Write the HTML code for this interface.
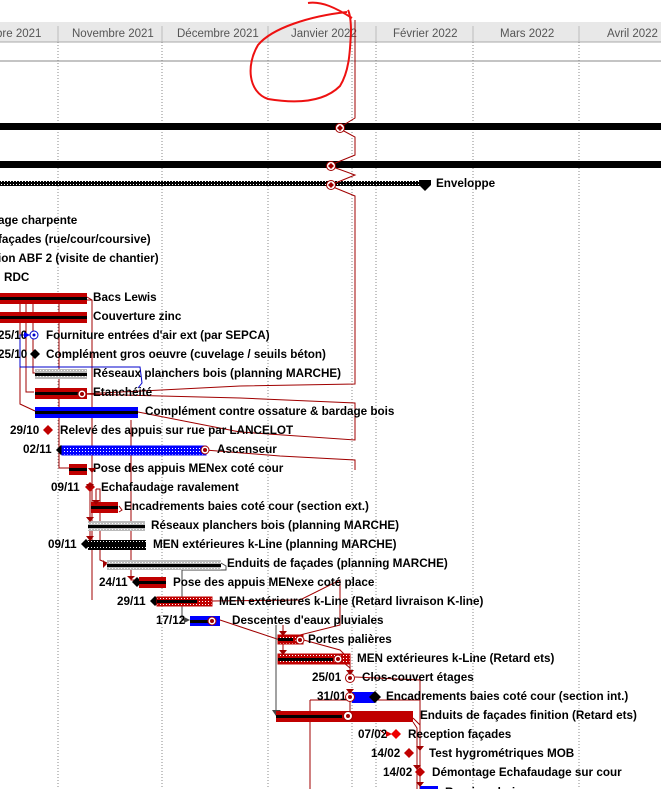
<!DOCTYPE html>
<html><head><meta charset="utf-8"><style>
html,body{margin:0;padding:0;background:#fff;width:661px;height:789px;overflow:hidden}
svg{display:block}
text{font-family:"Liberation Sans",Arial,sans-serif;font-size:11.7px;font-weight:bold;fill:#000}
.h{font-weight:normal;font-size:11.5px;fill:#555}
</style></head><body>
<svg width="661" height="789" viewBox="0 0 661 789" xmlns="http://www.w3.org/2000/svg">
<defs>
<pattern id="hb" width="3" height="3" patternUnits="userSpaceOnUse"><rect width="3" height="3" fill="#000"/><rect x="1" y="1" width="1" height="1" fill="#fff"/></pattern>
<pattern id="hg" width="3" height="3" patternUnits="userSpaceOnUse"><rect width="3" height="3" fill="#bbb"/><rect x="1" y="1" width="1" height="1" fill="#fff"/></pattern>
<pattern id="hr" width="3" height="3" patternUnits="userSpaceOnUse"><rect width="3" height="3" fill="#c00000"/><rect x="1" y="1" width="1" height="1" fill="#fff"/></pattern>
<pattern id="hu" width="3" height="3" patternUnits="userSpaceOnUse"><rect width="3" height="3" fill="#0000ff"/><rect x="1" y="1" width="1" height="1" fill="#fff"/></pattern>
</defs>
<rect x="0" y="22" width="661" height="20" fill="#e8e8e8"/>
<line x1="0" y1="42" x2="661" y2="42" stroke="#aaa"/>
<g stroke="#bbb"><line x1="58" y1="26" x2="58" y2="42"/><line x1="162" y1="26" x2="162" y2="42"/><line x1="268" y1="26" x2="268" y2="42"/><line x1="376" y1="26" x2="376" y2="42"/><line x1="473" y1="26" x2="473" y2="42"/><line x1="579" y1="26" x2="579" y2="42"/></g>
<text class="h" x="-4" y="37">bre 2021</text>
<text class="h" x="72" y="37">Novembre 2021</text>
<text class="h" x="177" y="37">Décembre 2021</text>
<text class="h" x="291" y="37">Janvier 2022</text>
<text class="h" x="393" y="37">Février 2022</text>
<text class="h" x="500" y="37">Mars 2022</text>
<text class="h" x="607" y="37">Avril 2022</text>
<line x1="0" y1="61" x2="661" y2="61" stroke="#888"/>
<g stroke="#888" stroke-dasharray="1,2">
<line x1="58" y1="42" x2="58" y2="789"/><line x1="162" y1="42" x2="162" y2="789"/><line x1="268" y1="42" x2="268" y2="789"/><line x1="352" y1="42" x2="352" y2="789"/><line x1="376" y1="42" x2="376" y2="789"/><line x1="473" y1="42" x2="473" y2="789"/><line x1="579" y1="42" x2="579" y2="789"/>
</g>
<rect x="0" y="123" width="661" height="7" fill="#000"/>
<rect x="0" y="161" width="661" height="7" fill="#000"/>
<rect x="0" y="181" width="423" height="5" fill="url(#hb)"/>
<path d="M419 180 L431 180 L431 185 L425 191 L419 185Z" fill="#000"/>
<text x="436" y="187">Enveloppe</text>
<g stroke="#a00000" fill="none" stroke-width="1">
<path d="M355 20 L355 118 L342 126 M342 130 L355 137 L355 155 L333 164 M333 167 L355 175 L333 184 M333 187 L355 196 L355 384 L240 386 L82 394"/>
<path d="M82 394 L240 398 L355 403 L355 440 L240 432 L138 412"/>
<path d="M205 450 L280 456 L355 460 L355 470"/>
<path d="M87 297 L92 300 L92 600 M20 300 L92 300 M20 300 L20 404 L35 411 M26 300 L26 392 L34 392 M33 300 L33 373 L35 373 M59 300 L59 468 L69 468"/>
<path d="M131 420 L131 580 L137 580"/>
<path d="M96 489 L96 500 M90 489 L90 540 M96 489 L100 489 L100 560 L107 563"/>
<path d="M119 506 L122 510 L119 512"/>
<path d="M212 601 L300 600 L340 580 L340 625 L280 640 L220 620"/>
<path d="M300 639 L340 650 L350 660 L350 673 M338 658 L350 668"/>
<path d="M355 677 L420 680 L420 750 M350 690 L350 705 L350 712"/>
<path d="M310 700 L310 789 M310 700 L420 700"/>
<path d="M413 718 L420 725 L420 789 M413 722 L417 728 L417 789 M380 730 L385 734"/>
<path d="M283 625 L283 660"/>
</g>
<g fill="#fff" stroke="#a00000"><circle cx="340" cy="128" r="4.5"/><circle cx="331" cy="166" r="4.5"/><circle cx="331" cy="185" r="4.5"/></g>
<g fill="#a00000"><polygon points="340,125 343,128 340,131 337,128"/><polygon points="331,163 334,166 331,169 328,166"/><polygon points="331,182 334,185 331,188 328,185"/></g>
<path d="M276 625 L276 710" stroke="#444" fill="none"/>
<polygon points="272,710 281,710 276,716" fill="#444"/>
<path d="M221 563 L226 566 L226 570 L182 570 L182 620 L188 620" stroke="#444" fill="none"/>
<path d="M32 335 L20 335 L20 367 L140 367 L142 383 L138 388" stroke="#0000cc" fill="none"/>
<path d="M308 3 C322 1,336 8,352 18 M347 12 C310 16,272 28,258 45 C246 65,248 92,268 99 C292 103,322 104,340 86 C350 70,350 48,351 32 C351 22,350 14,348 10" stroke="#ee1111" stroke-width="2" fill="none"/>
<text x="-2" y="224">age charpente</text>
<text x="-2" y="243">façades (rue/cour/coursive)</text>
<text x="-2" y="262">ion ABF 2 (visite de chantier)</text>
<text x="4" y="281">RDC</text>
<g>
<rect x="0" y="293" width="87" height="11" fill="#c00000"/><rect x="0" y="297" width="87" height="3" fill="#000"/>
<text x="93" y="301">Bacs Lewis</text>
<rect x="0" y="312" width="87" height="11" fill="#c00000"/><rect x="0" y="316" width="87" height="3" fill="#000"/>
<text x="93" y="320">Couverture zinc</text>
<text x="-2" y="339">25/10</text><polygon points="24,332 30,335 24,338" fill="#0000ff"/><circle cx="34" cy="335" r="4" fill="#fff" stroke="#0000cc"/><circle cx="34" cy="335" r="1.5" fill="#0000cc"/>
<text x="46" y="339">Fourniture entrées d'air ext (par SEPCA)</text>
<text x="-2" y="358">25/10</text><polygon points="35,349 40,354 35,359 30,354" fill="#000"/>
<text x="46" y="358">Complément gros oeuvre (cuvelage / seuils béton)</text>
<rect x="35" y="369" width="52" height="10" fill="url(#hg)"/><rect x="35" y="373" width="52" height="3" fill="#000"/>
<text x="93" y="377">Réseaux planchers bois (planning MARCHE)</text>
<rect x="35" y="388" width="52" height="11" fill="#c00000"/><rect x="35" y="392" width="43" height="3" fill="#000"/><circle cx="82" cy="394" r="4" fill="#fff" stroke="#a00000"/><circle cx="82" cy="394" r="2" fill="#a00000"/>
<text x="93" y="396">Etanchéité</text>
<rect x="35" y="407" width="103" height="11" fill="#0000ff"/><rect x="35" y="411" width="103" height="3" fill="#000"/>
<text x="145" y="415">Complément contre ossature &amp; bardage bois</text>
<text x="10" y="434">29/10</text><polygon points="48,425 53,430 48,435 43,430" fill="#c00000"/>
<text x="60" y="434">Relevé des appuis sur rue par LANCELOT</text>
<text x="23" y="453">02/11</text><polygon points="61,445 66,450 61,455 56,450" fill="#000"/>
<rect x="62" y="446" width="144" height="9" fill="url(#hu)" stroke="#0000ff"/><circle cx="205" cy="450" r="4" fill="#fff" stroke="#a00000"/><circle cx="205" cy="450" r="2" fill="#a00000"/>
<text x="217" y="453">Ascenseur</text>
<rect x="69" y="464" width="18" height="11" fill="#c00000"/><rect x="69" y="468" width="18" height="3" fill="#000"/>
<text x="93" y="472">Pose des appuis MENex coté cour</text>
<text x="51" y="491">09/11</text><polygon points="90,482 95,487 90,492 85,487" fill="#c00000"/>
<text x="101" y="491">Echafaudage ravalement</text>
<rect x="91" y="502" width="27" height="11" fill="#c00000"/><rect x="91" y="506" width="27" height="3" fill="#000"/>
<text x="124" y="510">Encadrements baies coté cour (section ext.)</text>
<rect x="88" y="521" width="57" height="10" fill="url(#hg)"/><rect x="88" y="525" width="57" height="3" fill="#000"/>
<text x="151" y="529">Réseaux planchers bois (planning MARCHE)</text>
<text x="48" y="548">09/11</text><polygon points="86,539 91,544 86,549 81,544" fill="#000"/>
<rect x="88" y="540" width="58" height="10" fill="url(#hb)"/><rect x="88" y="543" width="58" height="3" fill="#000"/>
<text x="153" y="548">MEN extérieures k-Line (planning MARCHE)</text>
<rect x="107" y="560" width="114" height="10" fill="url(#hg)"/><rect x="107" y="564" width="114" height="3" fill="#000"/>
<text x="227" y="567">Enduits de façades (planning MARCHE)</text>
<text x="99" y="586">24/11</text><polygon points="137,577 142,582 137,587 132,582" fill="#000"/>
<rect x="139" y="577" width="27" height="11" fill="#c00000"/><rect x="139" y="581" width="27" height="3" fill="#000"/>
<text x="173" y="586">Pose des appuis MENexe coté place</text>
<text x="117" y="605">29/11</text><polygon points="155,596 160,601 155,606 150,601" fill="#000"/>
<rect x="157" y="597" width="55" height="9" fill="url(#hr)" stroke="#c00000"/><rect x="157" y="600" width="40" height="3" fill="#000"/>
<text x="219" y="605">MEN extérieures k-Line (Retard livraison K-line)</text>
<text x="156" y="624">17/12</text><polygon points="184,617 190,620 184,623" fill="#444"/>
<rect x="190" y="616" width="30" height="10" fill="#0000ff"/><rect x="190" y="620" width="20" height="3" fill="#000"/><circle cx="212" cy="621" r="4" fill="#fff" stroke="#a00000"/><circle cx="212" cy="621" r="2" fill="#a00000"/>
<text x="232" y="624">Descentes d'eaux pluviales</text>
<rect x="278" y="635" width="25" height="9" fill="url(#hr)" stroke="#c00000"/><rect x="278" y="638" width="15" height="3" fill="#000"/><circle cx="300" cy="640" r="4" fill="#fff" stroke="#a00000"/><circle cx="300" cy="640" r="2" fill="#a00000"/>
<text x="308" y="643">Portes palières</text>
<rect x="278" y="654" width="72" height="10" fill="url(#hr)" stroke="#c00000"/><rect x="278" y="658" width="55" height="3" fill="#000"/><circle cx="338" cy="659" r="4" fill="#fff" stroke="#a00000"/><circle cx="338" cy="659" r="2" fill="#a00000"/>
<text x="357" y="662">MEN extérieures k-Line (Retard ets)</text>
<text x="312" y="681">25/01</text><circle cx="350" cy="678" r="4.5" fill="#fff" stroke="#a00000"/><circle cx="350" cy="678" r="2" fill="#a00000"/>
<text x="362" y="681">Clos-couvert étages</text>
<text x="317" y="700">31/01</text><rect x="352" y="692" width="23" height="11" fill="#0000ff"/><circle cx="350" cy="697" r="4.5" fill="#fff" stroke="#a00000"/><circle cx="350" cy="697" r="2" fill="#a00000"/><polygon points="375,691 381,697 375,703 369,697" fill="#000"/>
<text x="386" y="700">Encadrements baies coté cour (section int.)</text>
<rect x="276" y="711" width="137" height="11" fill="#c00000"/><rect x="276" y="715" width="66" height="3" fill="#000"/><circle cx="348" cy="716" r="4.5" fill="#fff" stroke="#a00000"/><circle cx="348" cy="716" r="2" fill="#a00000"/>
<text x="420" y="719">Enduits de façades finition (Retard ets)</text>
<text x="358" y="738">07/02</text><polygon points="386,731 392,734 386,737" fill="#e00000"/><polygon points="396,729 401,734 396,739 391,734" fill="#ee0000"/>
<text x="408" y="738">Reception façades</text>
<text x="371" y="757">14/02</text><polygon points="409,748 414,753 409,758 404,753" fill="#c00000"/>
<text x="429" y="757">Test hygrométriques MOB</text>
<text x="383" y="776">14/02</text><polygon points="420,767 425,772 420,777 415,772" fill="#c00000"/>
<text x="432" y="776">Démontage Echafaudage sur cour</text>
<rect x="420" y="786" width="18" height="3" fill="#0000ff"/>
<text x="445" y="796">Reprises bois</text>
</g>
<g fill="#a00000">
<polygon points="88,468 92,473 96,468"/><polygon points="86,484 90,489 94,484" /><polygon points="92,500 96,505 100,500"/><polygon points="86,517 90,522 94,517"/><polygon points="86,536 90,541 94,536"/><polygon points="103,560 107,564 103,568"/><polygon points="127,576 131,580 135,576"/><polygon points="279,631 283,636 287,631"/><polygon points="279,650 283,655 287,650"/><polygon points="346,670 350,675 354,670"/><polygon points="346,689 350,694 354,689"/><polygon points="416,746 420,751 424,746"/><polygon points="413,765 417,770 421,765"/><polygon points="416,782 420,787 424,782"/>
</g>
</svg>
</body></html>
